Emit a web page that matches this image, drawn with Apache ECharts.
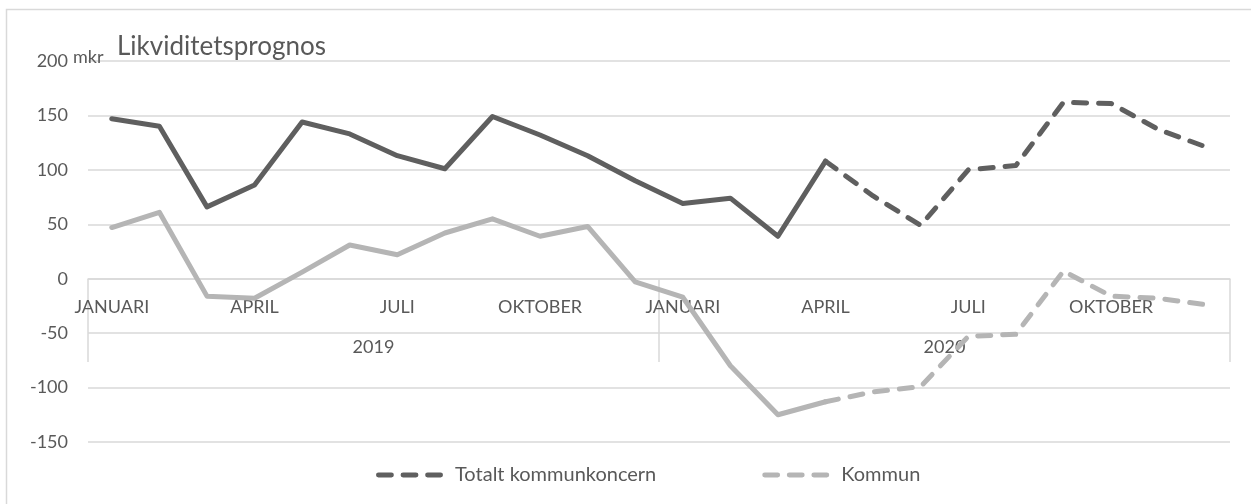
<!DOCTYPE html>
<html>
<head>
<meta charset="utf-8">
<script src="https://cdn.jsdelivr.net/npm/echarts@6/dist/echarts.min.js"></script>
<style>
  html, body { margin: 0; padding: 0; background: #fff; }
  #chart { width: 1251px; height: 504px; }
</style>
</head>
<body>
<div id="chart"></div>
<script>
// månader (två år), visas var tredje
const months = [
  'JANUARI', 'FEBRUARI', 'MARS', 'APRIL', 'MAJ', 'JUNI',
  'JULI', 'AUGUSTI', 'SEPTEMBER', 'OKTOBER', 'NOVEMBER', 'DECEMBER',
  'JANUARI', 'FEBRUARI', 'MARS', 'APRIL', 'MAJ', 'JUNI',
  'JULI', 'AUGUSTI', 'SEPTEMBER', 'OKTOBER', 'NOVEMBER', 'DECEMBER'
];
const years = ['2019', '2020'];

// mkr
const koncern = [147, 140, 66, 86, 144, 133, 113, 101, 149, 132, 113, 90,
                 69, 74, 39, 108, 76, 49, 100, 104, 162, 161, 137, 121];
const kommun = [47, 61, -16, -18, 6, 31, 22, 42, 55, 39, 48, -3,
                -17, -80, -125, -113, -104, -99, -53, -51, 7, -16, -18, -24];

// sista utfallsmånaden (april 2020), därefter prognos
const lastActual = 15;

const actual = arr => arr.map((v, i) => (i <= lastActual ? v : null));
const forecast = arr => arr.map((v, i) => (i >= lastActual ? v : null));

const textColor = '#595959';
const gridColor = '#d9d9d9';
const darkGray = '#5f5f5f';
const lightGray = '#b5b5b5';
const font = 'Lato';

// tre rundade streck, som i Excel-legenden
const dashIcon = 'path://M2.5,0 L15.5,0 A2.5,2.5 0 0 1 15.5,5 L2.5,5 A2.5,2.5 0 0 1 2.5,0 Z ' +
  'M27.25,0 L40.25,0 A2.5,2.5 0 0 1 40.25,5 L27.25,5 A2.5,2.5 0 0 1 27.25,0 Z ' +
  'M52,0 L65,0 A2.5,2.5 0 0 1 65,5 L52,5 A2.5,2.5 0 0 1 52,0 Z';

// nollinjen ligger 163 px ovanför plotytans nederkant
const zeroOffset = -163;

const chart = echarts.init(document.getElementById('chart'));

const lineBase = {
  type: 'line',
  symbol: 'none',
  xAxisIndex: 0,
  animation: false
};

chart.setOption({
  backgroundColor: '#fff',
  title: [{
    text: 'Likviditetsprognos',
    left: 112,
    top: 29,
    textStyle: { fontFamily: font, fontSize: 26, fontWeight: 'normal', color: textColor }
  }, {
    text: 'mkr',
    left: 68,
    top: 43,
    textStyle: { fontFamily: font, fontSize: 18, fontWeight: 'normal', color: textColor }
  }],
  graphic: [{
    type: 'rect',
    shape: { x: 6.5, y: 9.5, width: 1270, height: 520 },
    style: { fill: 'none', stroke: gridColor, lineWidth: 1.5 },
    silent: true
  }],
  legend: {
    data: [
      { name: 'Totalt kommunkoncern', icon: dashIcon },
      { name: 'Kommun', icon: dashIcon }
    ],
    left: 371,
    top: 460,
    itemWidth: 67,
    itemHeight: 5,
    itemGap: 106,
    textStyle: { fontFamily: font, fontSize: 20, color: textColor, padding: [0, 0, 0, 7] }
  },
  grid: { left: 88, right: 21, top: 61, bottom: 62, outerBoundsMode: 'none' },
  xAxis: [{
    type: 'category',
    data: months,
    position: 'bottom',
    offset: zeroOffset,
    boundaryGap: true,
    axisLine: { onZero: false, lineStyle: { color: gridColor, width: 1.5 } },
    axisTick: { show: false },
    axisLabel: { interval: 2, margin: 19, fontFamily: font, fontSize: 18, color: textColor }
  }, {
    type: 'category',
    data: years,
    position: 'bottom',
    offset: zeroOffset,
    boundaryGap: true,
    axisLine: { show: false, onZero: false },
    axisTick: { show: true, length: 83, lineStyle: { color: gridColor, width: 1.5 } },
    axisLabel: { margin: 59, fontFamily: font, fontSize: 18, color: textColor }
  }],
  yAxis: {
    type: 'value',
    min: -150,
    max: 200,
    interval: 50,
    axisLine: { show: false },
    axisTick: { show: false },
    axisLabel: { margin: 20, fontFamily: font, fontSize: 18, color: textColor },
    splitLine: { lineStyle: { color: gridColor, width: 1.5 } }
  },
  series: [
    Object.assign({}, lineBase, {
      name: 'Totalt kommunkoncern (utfall)',
      data: actual(koncern),
      lineStyle: { color: darkGray, width: 5, cap: 'round', join: 'round' },
      itemStyle: { color: darkGray }
    }),
    Object.assign({}, lineBase, {
      name: 'Kommun (utfall)',
      data: actual(kommun),
      lineStyle: { color: lightGray, width: 5, cap: 'round', join: 'round' },
      itemStyle: { color: lightGray }
    }),
    Object.assign({}, lineBase, {
      name: 'Totalt kommunkoncern',
      data: forecast(koncern),
      lineStyle: { color: darkGray, width: 5, type: [13, 12], cap: 'round', join: 'round' },
      itemStyle: { color: darkGray }
    }),
    Object.assign({}, lineBase, {
      name: 'Kommun',
      data: forecast(kommun),
      lineStyle: { color: lightGray, width: 5, type: [13, 12], cap: 'round', join: 'round' },
      itemStyle: { color: lightGray }
    })
  ]
});
</script>
</body>
</html>
